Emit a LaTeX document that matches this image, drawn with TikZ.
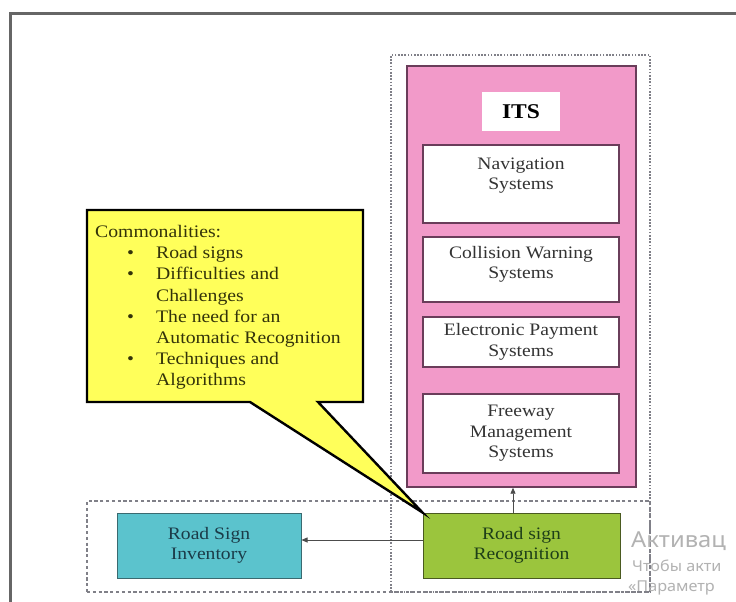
\documentclass[tikz,border=0pt]{standalone}
\usepackage{fontspec}
\setmainfont{Liberation Serif}
\newfontfamily\tnr[FakeStretch=1.12]{Liberation Serif}
\newfontfamily\wmfont[FakeStretch=1.08]{Noto Sans}
\usetikzlibrary{arrows.meta}
\definecolor{framegray}{HTML}{666666}
\definecolor{pinkfill}{HTML}{F29AC9}
\definecolor{pinkdraw}{HTML}{6A3D5A}
\definecolor{greenfill}{HTML}{9BC53D}
\definecolor{greendraw}{HTML}{4A5A20}
\definecolor{greentext}{HTML}{1E3F18}
\definecolor{cyanfill}{HTML}{5BC3CD}
\definecolor{cyandraw}{HTML}{3A6A70}
\definecolor{cyantext}{HTML}{1B3B48}
\definecolor{yellowfill}{HTML}{FFFF5A}
\definecolor{calltext}{HTML}{33330A}
\definecolor{boxtext}{HTML}{333333}
\definecolor{groupgray}{HTML}{808088}
\begin{document}
\begin{tikzpicture}[x=1pt,y=-1pt,
  txt/.style={font=\tnr\fontsize{17.5}{20.5}\selectfont, align=center, inner sep=0pt},
  groupbox/.style={draw=groupgray, line width=1.3pt, inner sep=0pt},
  subbox/.style={txt, draw=pinkdraw, line width=1.4pt, fill=white, text=boxtext, minimum width=196pt},
  conn/.style={draw=black!70, line width=0.8pt, -{Triangle[length=6pt,width=5pt]}},
  wm/.style={text=black!30, inner sep=0pt, anchor=west}]
\clip (0,0) rectangle (736,602);
\fill[white] (0,0) rectangle (736,602);
% outer frame (top and left edges)
\draw[framegray, line width=3pt] (10.5,602) -- (10.5,13.5) -- (736,13.5);
% group boxes
\node[groupbox, dash pattern=on 1.6pt off 1.6pt, minimum width=259pt, minimum height=537pt] (itsgroup) at (520.5,323.5) {};
\node[groupbox, dash pattern=on 3.2pt off 2.6pt, minimum width=563pt, minimum height=91pt] (botgroup) at (368.5,546.5) {};
% ITS container
\node[draw=pinkdraw, fill=pinkfill, line width=1.4pt, minimum width=229pt, minimum height=421pt, inner sep=0pt] (pink) at (521.5,276.5) {};
\node[fill=white, minimum width=78pt, minimum height=39pt, inner sep=0pt, font=\tnr\fontsize{21}{24}\selectfont\bfseries] (its) at (521,111.5) {ITS};
\node[subbox, minimum height=78pt] (nav) at (521,184) {Navigation\\Systems\\~};
\node[subbox, minimum height=65pt] (coll) at (521,269.5) {Collision Warning\\Systems\\[-6pt]~};
\node[subbox, minimum height=50pt] (epay) at (521,342) {Electronic Payment\\Systems};
\node[subbox, minimum height=79pt] (free) at (521,433.5) {Freeway\\Management\\Systems};
% bottom boxes
\node[txt, draw=greendraw, line width=1pt, fill=greenfill, text=greentext, minimum width=197pt, minimum height=65pt] (green) at (521.5,545.5) {Road sign\\Recognition};
\node[txt, draw=cyandraw, line width=1pt, fill=cyanfill, text=cyantext, minimum width=184pt, minimum height=65pt] (cyan) at (209,545.5) {Road Sign\\Inventory};
% connectors
\draw[conn] ([yshift=5.5pt]green.west) -- ([yshift=5.5pt]cyan.east);
\draw[conn] ([xshift=-8.5pt]green.north) -- ([xshift=-8.5pt]pink.south);
% callout
\coordinate (tip) at (green.north west);
\draw[fill=yellowfill, draw=black, line width=2.4pt, line join=miter]
  (87,210) -- (363,210) -- (363,402) -- (318,402) -- (tip) -- (250,402) -- (87,402) -- cycle;
\node[txt, align=left, anchor=north west, text=calltext, font=\tnr\fontsize{17.6}{21.2}\selectfont] (comm) at (95,225)
{Commonalities:\\
\hspace*{32pt}\makebox[29pt][l]{\textbullet}Road signs\\
\hspace*{32pt}\makebox[29pt][l]{\textbullet}Difficulties and\\
\hspace*{61pt}Challenges\\
\hspace*{32pt}\makebox[29pt][l]{\textbullet}The need for an\\
\hspace*{61pt}Automatic Recognition\\
\hspace*{32pt}\makebox[29pt][l]{\textbullet}Techniques and\\
\hspace*{61pt}Algorithms};
% watermark (cut at the right edge as in the screenshot)
\node[wm, font=\wmfont\fontsize{22}{24}\selectfont] (wm1) at (631,541) {Активац};
\node[wm, font=\wmfont\fontsize{15}{17}\selectfont] (wm2) at (632,566) {Чтобы акти};
\node[wm, font=\wmfont\fontsize{15}{17}\selectfont] (wm3) at (628,588) {«Параметр};
\end{tikzpicture}
\end{document}
